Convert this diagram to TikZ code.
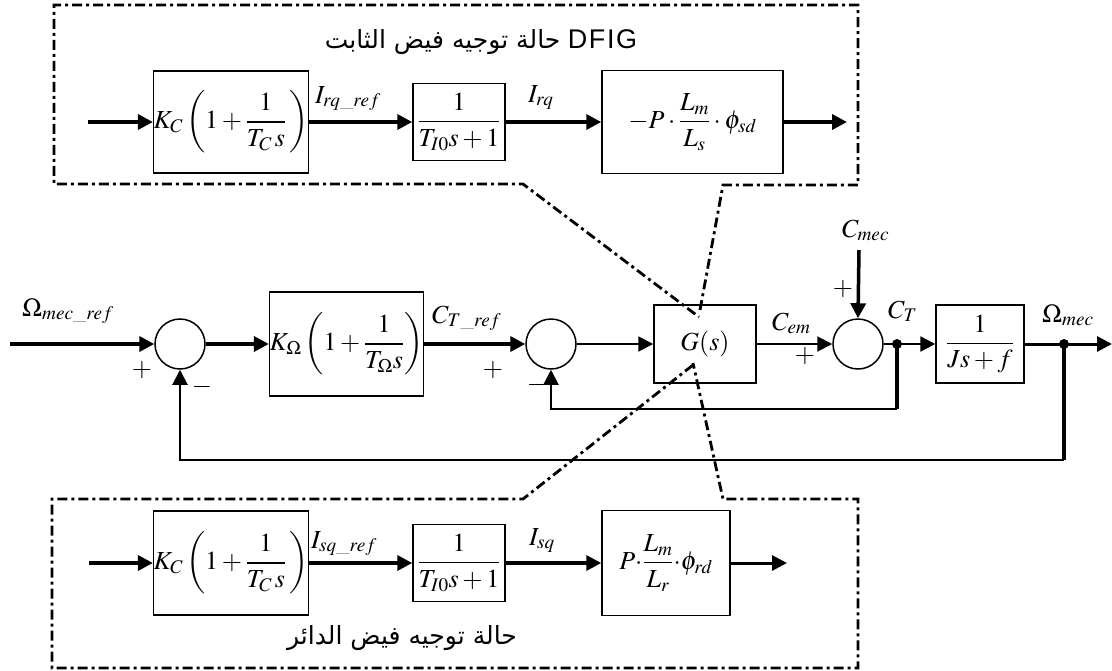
\documentclass[tikz,border=0pt]{standalone}
\usepackage{amsmath}
\usepackage{mathptmx}
\usepackage[no-math]{fontspec}
\newfontfamily\arabicfont[Script=Arabic]{DejaVu Sans}
\newfontfamily\latinsans[LetterSpace=6]{Liberation Sans}
\TeXXeTstate=1
\usetikzlibrary{arrows.meta}
\begin{document}
\begin{tikzpicture}[x=1pt,y=-1pt,
  font=\fontsize{26}{30}\selectfont,
  blk/.style={draw, line width=1.5pt, inner sep=0pt},
  sumc/.style={draw, circle, line width=1.5pt, minimum size=50pt, inner sep=0pt},
  dotn/.style={circle, fill, minimum size=10pt, inner sep=0pt},
  thk/.style={line width=3.5pt, -{Triangle[length=15pt,width=15pt]}},
  thn/.style={line width=2pt, -{Triangle[length=15pt,width=15pt]}},
  ddframe/.style={line width=2.8pt, dash pattern=on 10pt off 4pt on 3pt off 4pt},
  lbl/.style={anchor=base west, inner sep=0pt},
  sgn/.style={inner sep=0pt},
  ttl/.style={inner sep=0pt}
]
\useasboundingbox (0,0) rectangle (1112,670);

% ---------- top box ----------
\draw[ddframe] (700,310) -- (723,185) -- (858,185) -- (858,5) -- (54,5) -- (54,184) -- (523,184) -- (699,317);
\node[ttl] (ttop) at (481,42) {\fontsize{25}{30}\selectfont{\arabicfont\beginR حالة توجيه فيض الثابت\endR}\ {\fontsize{27}{30}\selectfont\latinsans DFIG}};
\coordinate (tin) at (88,122);
\node[blk, minimum width=154pt, minimum height=102pt] (t1) at (231,122) {$K_C\left(1+\dfrac{1}{T_C\,s}\,\right)$};
\node[blk, minimum width=92pt, minimum height=77pt] (t2) at (459,122) {$\dfrac{1}{T_{I0}s+1}$};
\node[blk, minimum width=181pt, minimum height=103pt] (t3) at (692.5,122) {$-P\cdot\dfrac{L_m}{L_s}\cdot\phi_{sd}$};
\coordinate (tout) at (847,122);
\draw[thk] (tin) -- (t1.west);
\draw[thk] (t1.east) -- (t2.west);
\draw[thk] (t2.east) -- (t3.west);
\draw[thk] (t3.east) -- (tout);
\node[lbl] (lirqref) at (315,103) {$I_{rq\_ref}$};
\node[lbl] (lirq) at (528,102) {$I_{rq}$};

% ---------- middle row ----------
\coordinate (in) at (10,344);
\node[sumc] (s1) at (180,344) {};
\node[blk, minimum width=153pt, minimum height=104pt] (k) at (346.5,344) {$K_{\Omega}\left(1+\dfrac{1}{T_{\Omega}s}\right)$};
\node[sumc] (s2) at (551,344) {};
\node[blk, minimum width=102pt, minimum height=78pt] (g) at (705,344) {$G(s)$};
\node[sumc] (s3) at (858,344) {};
\node[dotn] (d1) at (897,344) {};
\node[blk, minimum width=88pt, minimum height=78pt] (b4) at (980,344) {$\dfrac{1}{Js+f}$};
\node[dotn] (d2) at (1064,344) {};
\coordinate (out) at (1112,344);
\coordinate (cm) at (859,250);

\draw[thk] (in) -- (s1.west);
\draw[thk] (s1.east) -- (k.west);
\draw[thk] (k.east) -- (s2.west);
\draw[thn] (s2.east) -- (g.west);
\draw[thn] (g.east) -- (s3.west);
\draw[thk] (cm) -- (s3.north);
\draw[line width=2pt] (s3.east) -- (d1.center);
\draw[line width=2.5pt, -{Triangle[length=15pt,width=15pt]}] (d1.center) -- (b4.west);
\draw[line width=3pt] (b4.east) -- (d2.center);
\draw[line width=3pt, -{Triangle[length=15pt,width=15pt]}] (d2.center) -- (out);
\draw[line width=3.5pt] (d1.center) -- ++(0,65);
\draw[thn] (d1.center) ++(0,65) -| (s2.south);
\draw[line width=3.5pt] (d2.center) -- ++(0,116);
\draw[thn] (d2.center) ++(0,116) -| (s1.south);

\node[lbl] (lomref) at (22,316) {$\Omega_{mec\_ref}$};
\node[lbl] (lctref) at (432,323) {$C_{T\_ref}$};
\node[lbl] (lcem) at (772,330) {$C_{em}$};
\node[lbl] (lcmec) at (842,237) {$C_{mec}$};
\node[lbl] (lct) at (888,318) {$C_T$};
\node[lbl] (lom) at (1042,322) {$\Omega_{mec}$};
\node[sgn] (p1) at (142,370) {$+$};
\node[sgn] (m1) at (202,387) {$-$};
\node[sgn] (p2) at (493,370) {$+$};
\node[sgn] (m2) at (537,385) {$-$};
\node[sgn] (p3) at (805,356) {$+$};
\node[sgn] (p4) at (843,289) {$+$};

% ---------- bottom box ----------
\draw[ddframe] (693,365) -- (523,499) -- (52,499) -- (52,668) -- (858,668) -- (858,499) -- (723,499) -- (693,363);
\coordinate (bin) at (89,563);
\node[blk, minimum width=154pt, minimum height=104pt] (b1) at (231,563) {$K_C\left(1+\dfrac{1}{T_C\,s}\,\right)$};
\node[blk, minimum width=92pt, minimum height=77pt] (b2) at (459,563) {$\dfrac{1}{T_{I0}s+1}$};
\node[blk, minimum width=128pt, minimum height=105pt] (b3) at (666,563) {$P{\cdot}\dfrac{L_m}{L_r}{\cdot}\phi_{rd}$};
\coordinate (bout) at (787,563);
\draw[thk] (bin) -- (b1.west);
\draw[thk] (b1.east) -- (b2.west);
\draw[thk] (b2.east) -- (b3.west);
\draw[line width=3pt, -{Triangle[length=15pt,width=15pt]}] (b3.east) -- (bout);
\node[lbl] (lisqref) at (311,548) {$I_{sq\_ref}$};
\node[lbl] (lisq) at (529,545) {$I_{sq}$};
\node[ttl] (tbot) at (402,638) {\fontsize{25}{30}\selectfont\arabicfont\beginR حالة توجيه فيض الدائر\endR};
\end{tikzpicture}
\end{document}
